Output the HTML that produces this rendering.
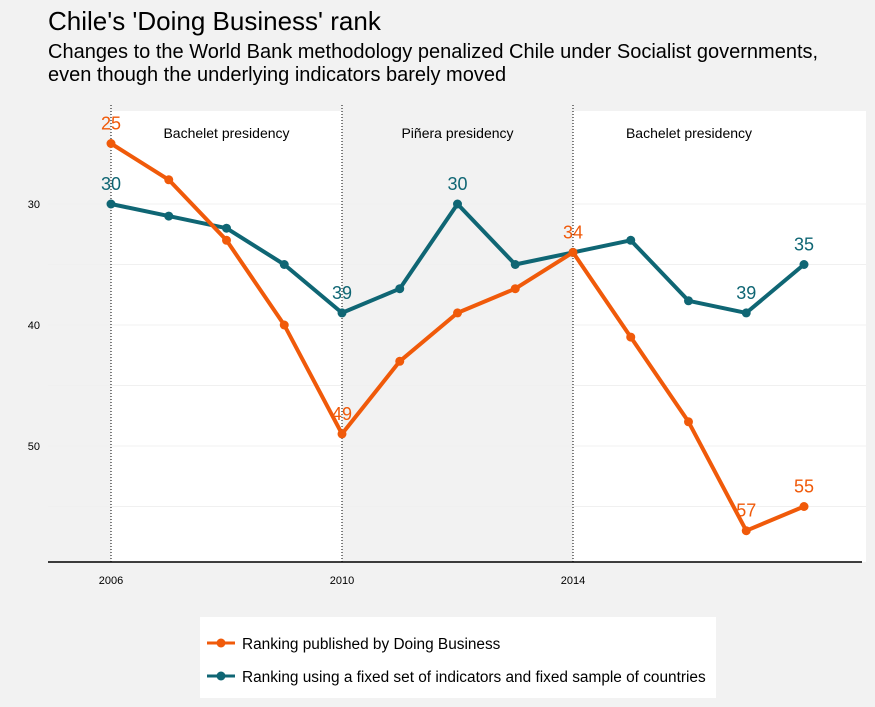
<!DOCTYPE html>
<html><head><meta charset="utf-8"><style>
body{margin:0;background:#f2f2f2;font-family:"Liberation Sans",sans-serif;}
svg{display:block}
</style></head><body>
<svg width="875" height="707">
<rect x="0" y="0" width="875" height="707" fill="#f2f2f2"/>
<text x="48" y="30" font-size="26" fill="#000">Chile's 'Doing Business' rank</text>
<text x="48" y="58" font-size="20" fill="#000">Changes to the World Bank methodology penalized Chile under Socialist governments,</text>
<text x="48" y="81" font-size="20" fill="#000">even though the underlying indicators barely moved</text>
<g id="plot"></g>
<g>
<rect x="200" y="617" width="516" height="81" fill="#fff"/>
<line x1="207" y1="643" x2="235" y2="643" stroke="#f05a0a" stroke-width="3"/>
<circle cx="221" cy="643" r="4.5" fill="#f05a0a"/>
<text x="242" y="649" font-size="15.4">Ranking published by Doing Business</text>
<line x1="207" y1="676" x2="235" y2="676" stroke="#0f6674" stroke-width="3"/>
<circle cx="221" cy="676" r="4.5" fill="#0f6674"/>
<text x="242" y="682" font-size="15.4">Ranking using a fixed set of indicators and fixed sample of countries</text>
</g>
</svg>
<script>
const years=[2006,2007,2008,2009,2010,2011,2012,2013,2014,2015,2016,2017,2018];
const published=[25,28,33,40,49,43,39,37,34,41,48,57,55];
const fixedSample=[30,31,32,35,39,37,30,35,34,33,38,39,35];
const yTicks=[30,40,50];
const xTicks=[2006,2010,2014];
const pubLabels=[2006,2010,2014,2017,2018];
const fixLabels=[2006,2010,2012,2017,2018];
const periods=[{s:2006,e:2010,name:'Bachelet presidency',white:true},{s:2010,e:2014,name:'Piñera presidency',white:false},{s:2014,e:2019.1,name:'Bachelet presidency',white:true}];
const X=y=>111+(y-2006)*57.75;
const Y=v=>204+(v-30)*12.1;
const NS='http://www.w3.org/2000/svg';
const g=document.getElementById('plot');
function mk(t,a,p){const e=document.createElementNS(NS,t);for(const k in a)e.setAttribute(k,a[k]);(p||g).appendChild(e);return e;}
periods.forEach((p,i)=>{
 if(p.white){const r=mk('rect',{x:X(p.s),y:111,width:Math.min(866,X(p.e))-X(p.s),height:562-111,fill:'#fff'});
 
 }
});
yTicks.concat([35,45,55]).forEach(v=>{const l=mk('line',{x1:48,x2:866,y1:Y(v),y2:Y(v),stroke:'#f0f0f0','stroke-width':1});
 
 });
periods.forEach((p,i)=>{
 const t=mk('text',{x:(X(p.s)+Math.min(X(p.e),805))/2,y:138,'font-size':14,'text-anchor':'middle'});t.textContent=p.name;
 
 
});
yTicks.forEach(v=>{const t=mk('text',{x:40,y:Y(v)+4,'font-size':11,'text-anchor':'end'});t.textContent=v;
 
 });
xTicks.forEach(v=>{const l=mk('line',{x1:X(v),x2:X(v),y1:105,y2:562,stroke:'#000','stroke-dasharray':'1,2','stroke-width':1});
 
 
 const t=mk('text',{x:X(v),y:584,'font-size':11,'text-anchor':'middle'});t.textContent=v;
 
 });
const ax=mk('line',{x1:48,x2:862,y1:562,y2:562,stroke:'#000','stroke-width':1.5});


function series(vals,col,name,labs){
 const pl=mk('polyline',{points:years.map((y,i)=>X(y)+','+Y(vals[i])).join(' '),fill:'none',stroke:col,'stroke-width':4,'stroke-linejoin':'round'});
 
 
 years.forEach((y,i)=>{const c=mk('circle',{cx:X(y),cy:Y(vals[i]),r:4.5,fill:col});
  
  
  if(labs.includes(y)){const t=mk('text',{x:X(y),y:Y(vals[i])-14,'font-size':18,fill:col,'text-anchor':'middle'});t.textContent=vals[i];
   
   }
 });
}
series(fixedSample,'#0f6674','fixed',fixLabels);
series(published,'#f05a0a','published',pubLabels);
</script>
</body></html>
